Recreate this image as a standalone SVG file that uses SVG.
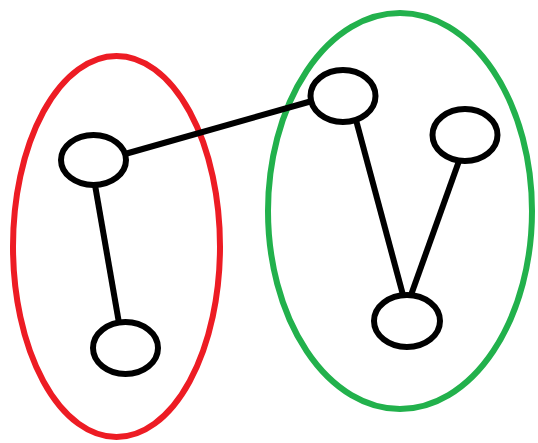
<svg xmlns="http://www.w3.org/2000/svg" width="538" height="443" viewBox="0 0 538 443">
<style>
.grp{fill:none;stroke-width:6}
.node{fill:#fff;stroke:#000;stroke-width:6}
.edge{stroke:#000;stroke-width:6;fill:none}
</style>
<rect width="538" height="443" fill="#fff"/>
<g id="group-red"><ellipse class="grp" cx="116.5" cy="246.5" rx="103.5" ry="190.5" stroke="#ed1c24"/></g>
<g id="group-green"><ellipse class="grp" cx="400" cy="211" rx="132" ry="198" stroke="#22b14c"/></g>
<g id="connectors">
<line class="edge" x1="125" y1="154" x2="312" y2="101"/>
<line class="edge" x1="95" y1="185" x2="119" y2="323"/>
<line class="edge" x1="356" y1="120" x2="403" y2="295"/>
<line class="edge" x1="459" y1="161" x2="411" y2="295"/>
</g>
<g id="node-a"><ellipse class="node" cx="93.5" cy="160" rx="32.5" ry="25"/></g>
<g id="node-b"><ellipse class="node" cx="125.5" cy="348" rx="32.5" ry="26"/></g>
<g id="node-c"><ellipse class="node" cx="343" cy="96" rx="32.5" ry="26"/></g>
<g id="node-d"><ellipse class="node" cx="465" cy="135" rx="32.5" ry="26"/></g>
<g id="node-e"><ellipse class="node" cx="407" cy="321" rx="33" ry="26"/></g>
</svg>
